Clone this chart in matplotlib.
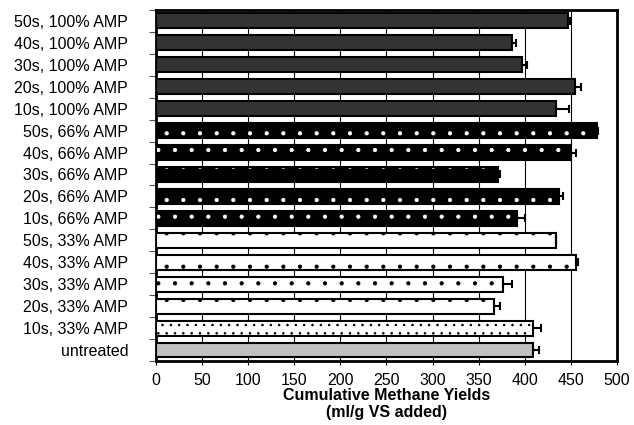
import numpy as np
import matplotlib.pyplot as plt

plt.rcParams['font.family'] = ['Liberation Sans', 'DejaVu Sans']
plt.rcParams['hatch.linewidth'] = 0.6

# data, top to bottom
rotulos = ['50s, 100% AMP', '40s, 100% AMP', '30s, 100% AMP', '20s, 100% AMP', '10s, 100% AMP',
           '50s, 66% AMP', '40s, 66% AMP', '30s, 66% AMP', '20s, 66% AMP', '10s, 66% AMP',
           '50s, 33% AMP', '40s, 33% AMP', '30s, 33% AMP', '20s, 33% AMP', '10s, 33% AMP',
           'untreated']
metano = [447, 386, 397, 455, 434,
          478, 450, 371, 437, 392,
          434, 456, 377, 367, 409,
          409]
erro = [2, 5, 6, 6, 14,
        2, 6, 2, 5, 8,
        0, 2, 9, 6, 9,
        7]
grupo = ['100'] * 5 + ['66'] * 5 + ['33'] * 4 + ['33d'] + ['un']

fig = plt.figure(figsize=(6.34, 4.25), dpi=100)
ax = fig.add_axes([0.246, 0.1506, 0.727, 0.826])

y = np.arange(len(rotulos))
h = 0.68

for i in range(len(rotulos)):
    g = grupo[i]
    if g == '100':
        ax.barh(y[i], metano[i], height=h, color='#333333', edgecolor='black', linewidth=1.5, zorder=3)
    elif g == '66':
        ax.barh(y[i], metano[i], height=h, color='black', edgecolor='white', hatch='.', linewidth=0, zorder=3)
        ax.barh(y[i], metano[i], height=h, fill=False, edgecolor='black', linewidth=1.5, zorder=4)
    elif g == '33' or g == '33d':
        hc = '.' if g == '33' else '..'
        ax.barh(y[i], metano[i], height=h, color='white', edgecolor='black', hatch=hc, linewidth=0, zorder=3)
        ax.barh(y[i], metano[i], height=h, fill=False, edgecolor='black', linewidth=1.5, zorder=4)
    else:
        ax.barh(y[i], metano[i], height=h, color='#c0c0c0', edgecolor='black', linewidth=1.5, zorder=3)

ax.errorbar(metano, y, xerr=[np.zeros(len(erro)), erro], fmt='none', ecolor='black',
            elinewidth=1.5, capsize=3, capthick=1.5, zorder=5)

ax.set_xlim(0, 500)
ax.set_ylim(len(rotulos) - 0.5, -0.5)
ax.set_xticks(np.arange(0, 501, 50))
ax.tick_params(axis='x', labelsize=11.5, length=3, direction='out', pad=6)
ax.grid(axis='x', color='black', linewidth=0.8, zorder=0)

ax.set_yticks(np.arange(-0.5, len(rotulos), 1))
ax.set_yticklabels([])
ax.set_yticks(y, minor=True)
ax.set_yticklabels(rotulos, minor=True)
ax.tick_params(axis='y', which='major', length=5, color='#555555')
ax.tick_params(axis='y', which='minor', length=0, pad=20, labelsize=11.5)

for s in ax.spines.values():
    s.set_linewidth(2)

ax.set_xlabel('Cumulative Methane Yields\n(ml/g VS added)', fontsize=11.5, fontweight='bold',
              labelpad=0, linespacing=1.15)

fig.savefig('out.png', dpi=100)
